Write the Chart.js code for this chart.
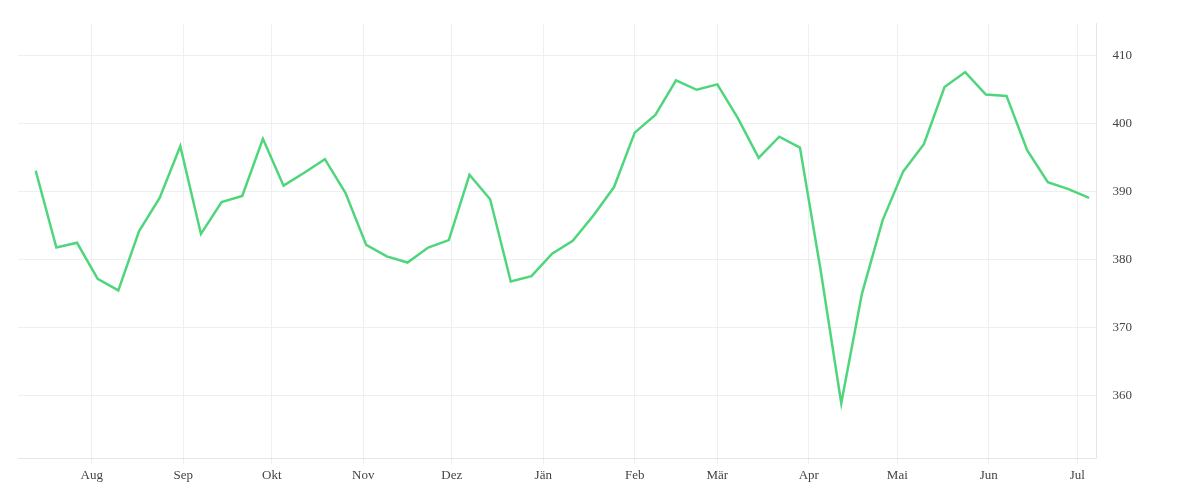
<!DOCTYPE html>
<html><head><meta charset="utf-8">
<script src="https://cdn.jsdelivr.net/npm/chart.js@4"></script>
<style>html,body{margin:0;background:#fff}#w{width:1200px;height:500px}</style>
</head><body><div id="w"><canvas id="c"></canvas></div>
<script>
const values=[393.1,381.8,382.5,377.2,375.5,384.2,389.1,396.7,383.8,388.5,389.4,397.8,390.9,392.8,394.8,389.8,382.2,380.5,379.6,381.8,382.9,392.5,388.9,376.8,377.6,380.9,382.8,386.5,390.7,398.7,401.3,406.4,405.0,405.8,400.8,395.0,398.1,396.5,378.5,358.9,375.0,385.8,393.0,397.0,405.4,407.6,404.3,404.1,396.1,391.4,390.4,389.1];
const monthLabels=["Aug","Sep","Okt","Nov","Dez","Jän","Feb","Mär","Apr","Mai","Jun","Jul"];
const monthDays=[19,50,80,111,141,172,203,231,262,292,323,353];
const yTicks=[360,370,380,390,400,410];
const pts=values.map((v,i)=>({x:i*7,y:v}));
const font={family:"'Liberation Serif','DejaVu Serif',serif",size:13};
new Chart(document.getElementById('c'),{type:'line',
data:{datasets:[{data:pts,borderColor:'#4fd67c',borderWidth:2.5,pointRadius:0,tension:0,fill:false}]},
options:{responsive:true,maintainAspectRatio:false,animation:false,
layout:{padding:{left:18,right:52,top:8,bottom:14}},
plugins:{legend:{display:false},tooltip:{enabled:false}},
scales:{
x:{type:'linear',min:-6,max:359.5,
 afterBuildTicks:a=>{a.ticks=monthDays.map(v=>({value:v}));},
 ticks:{color:'#444',font,autoSkip:false,maxRotation:0,callback:(v)=>monthLabels[monthDays.indexOf(v)]},
 grid:{color:'#efefef',drawTicks:true,tickLength:6},border:{color:'#e6e6e6'}},
y:{position:'right',min:350.8,max:414.7,
 afterBuildTicks:a=>{a.ticks=yTicks.map(v=>({value:v}));},
 ticks:{color:'#444',font,padding:16},
 grid:{color:'#efefef',drawTicks:false},border:{color:'#e6e6e6'}}
}}});
</script></body></html>
